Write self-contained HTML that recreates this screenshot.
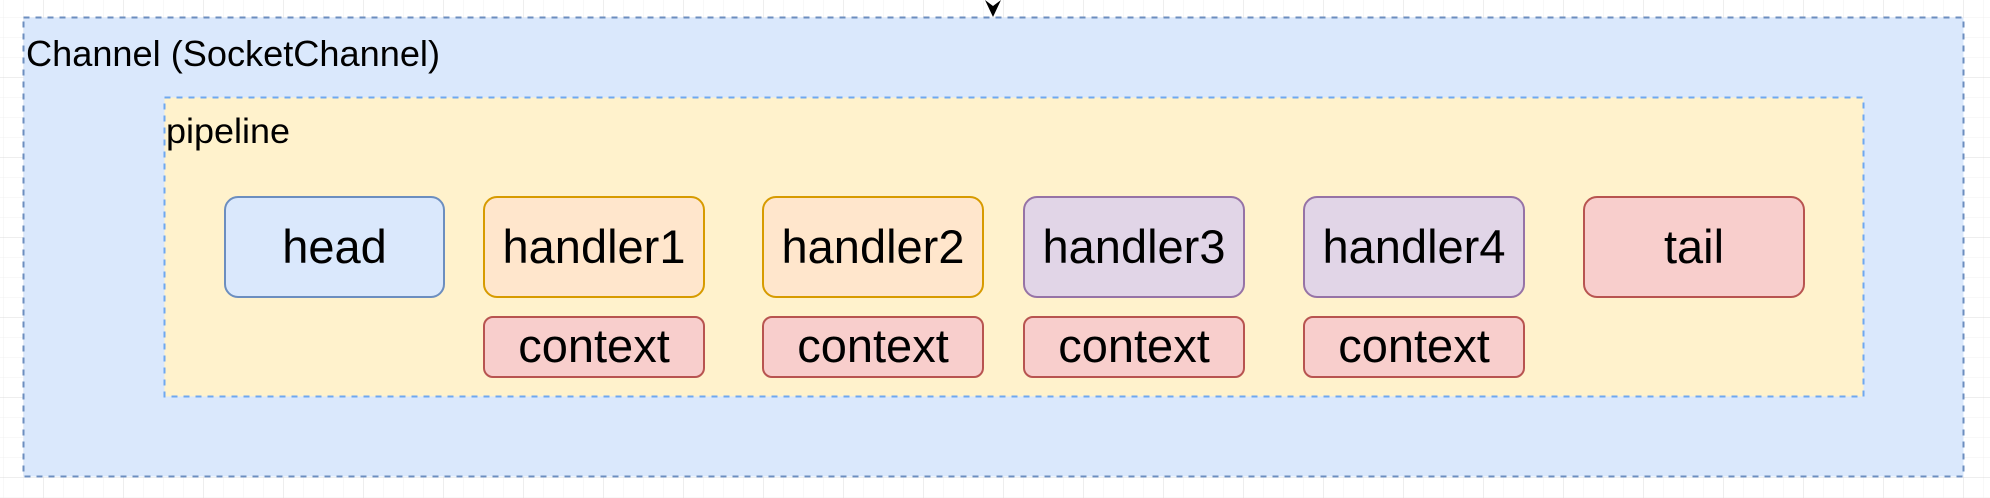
<!DOCTYPE html>
<html><head><meta charset="utf-8"><style>
html,body{margin:0;padding:0;background:#fff;width:1990px;height:498px;overflow:hidden}
svg{display:block}
text{font-family:"Liberation Sans",Arial,sans-serif;fill:#000}
</style></head><body>
<svg width="1990" height="498" viewBox="0 0 1990 498" xmlns="http://www.w3.org/2000/svg">
<defs>
<pattern id="minor" width="20" height="20" patternUnits="userSpaceOnUse" x="3" y="17">
<path d="M0 0H20M0 0V20" stroke="#f1f1f1" stroke-width="1" fill="none"/>
</pattern>
<pattern id="major" width="80" height="80" patternUnits="userSpaceOnUse" x="43" y="77">
<path d="M0 0H80M0 0V80" stroke="#dcdcdc" stroke-width="1" fill="none"/>
</pattern>
</defs>
<rect width="1990" height="498" fill="#fff"/>
<rect width="1990" height="498" fill="url(#minor)"/>
<rect width="1990" height="498" fill="url(#major)"/>

<rect x="23.5" y="17.5" width="1940" height="459" fill="#dae8fc" stroke="#6c8ebf" stroke-width="2" stroke-dasharray="6 6"/>
<text x="26" y="66" font-size="36" textLength="414" lengthAdjust="spacingAndGlyphs">Channel (SocketChannel)</text>

<rect x="164.5" y="97.5" width="1699" height="299" fill="#fff2cc" stroke="#6fa8f0" stroke-width="2" stroke-dasharray="6 6"/>
<text x="166" y="143" font-size="35" textLength="124" lengthAdjust="spacingAndGlyphs">pipeline</text>

<path d="M985 0 L993 17 L1001 0 L993 6 Z" fill="#000"/>

<g stroke-width="2" font-size="47" text-anchor="middle">
<rect x="225" y="197" width="219" height="100" rx="13" fill="#dae8fc" stroke="#6c8ebf"/>
<text x="334.5" y="263">head</text>
<rect x="484" y="197" width="220" height="100" rx="13" fill="#ffe6cc" stroke="#d79b00"/>
<text x="594" y="263">handler1</text>
<rect x="763" y="197" width="220" height="100" rx="13" fill="#ffe6cc" stroke="#d79b00"/>
<text x="873" y="263">handler2</text>
<rect x="1024" y="197" width="220" height="100" rx="13" fill="#e1d5e7" stroke="#9673a6"/>
<text x="1134" y="263">handler3</text>
<rect x="1304" y="197" width="220" height="100" rx="13" fill="#e1d5e7" stroke="#9673a6"/>
<text x="1414" y="263">handler4</text>
<rect x="1584" y="197" width="220" height="100" rx="13" fill="#f8cecc" stroke="#b85450"/>
<text x="1694" y="263">tail</text>

<rect x="484" y="317" width="220" height="60" rx="9" fill="#f8cecc" stroke="#b85450"/>
<text x="594" y="362">context</text>
<rect x="763" y="317" width="220" height="60" rx="9" fill="#f8cecc" stroke="#b85450"/>
<text x="873" y="362">context</text>
<rect x="1024" y="317" width="220" height="60" rx="9" fill="#f8cecc" stroke="#b85450"/>
<text x="1134" y="362">context</text>
<rect x="1304" y="317" width="220" height="60" rx="9" fill="#f8cecc" stroke="#b85450"/>
<text x="1414" y="362">context</text>
</g>
</svg>
</body></html>
